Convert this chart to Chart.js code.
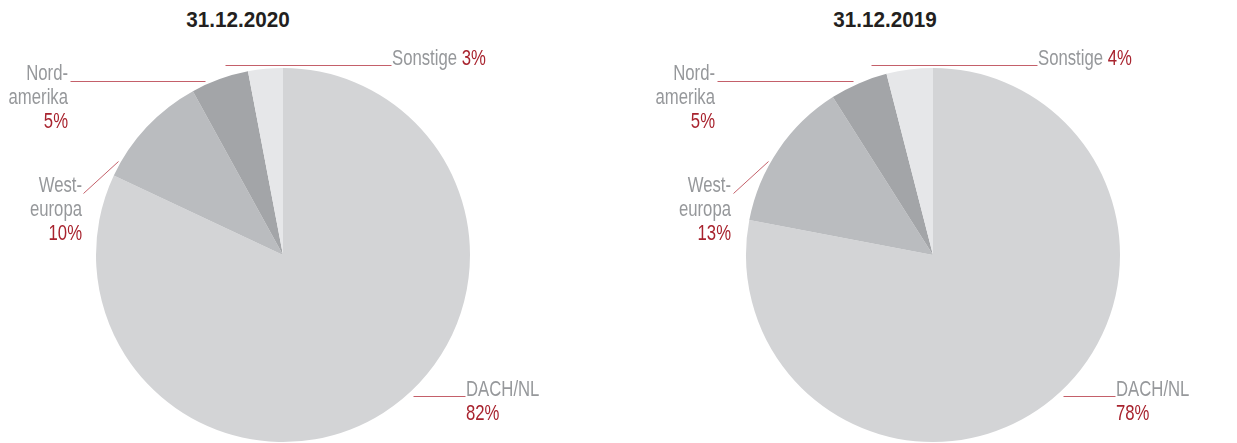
<!DOCTYPE html>
<html>
<head>
<meta charset="utf-8">
<script src="https://cdn.jsdelivr.net/npm/chart.js@4/dist/chart.umd.min.js"></script>
<style>
  html, body { margin: 0; padding: 0; background: #fff; }
  #wrap { position: relative; width: 1237px; height: 443px; overflow: hidden; }
  canvas { position: absolute; top: 0; }
  .title { position: absolute; top: 7px; font: bold 22px "Liberation Sans", Arial, sans-serif; color: #231f20; transform: translateX(-50%) scaleX(0.94); white-space: nowrap; }
</style>
</head>
<body>
<div id="wrap">
  <div class="title" id="t1" style="left:238px"></div>
  <div class="title" id="t2" style="left:885px"></div>
  <canvas id="c1" width="618" height="443" style="left:0"></canvas>
  <canvas id="c2" width="619" height="443" style="left:618px"></canvas>
</div>
<script>
// ---- data ----
const titles = ["31.12.2020", "31.12.2019"];
const categories = ["DACH/NL", "Westeuropa", "Nordamerika", "Sonstige"];
const values2020 = [82, 10, 5, 3];
const values2019 = [78, 13, 5, 4];
const sliceColors = ["#d3d4d6", "#babcbf", "#a3a5a8", "#e6e7e9"];

// label line texts (as printed)
const labelLines = {
  "DACH/NL": ["DACH/NL"],
  "Westeuropa": ["West-", "europa"],
  "Nordamerika": ["Nord-", "amerika"],
  "Sonstige": ["Sonstige"]
};

const GRAY = "#96989b";
const RED = "#a8232e";
const LINE = "#c4606a";
const FONT = '22px "Liberation Sans", Arial, sans-serif';
const SX = 0.76; // condensed look

// label layout (page coordinates)
const layouts = [
  { // 2020
    offsetX: 0,
    "DACH/NL": { type: "below", x: 466, y: 396, line: [[413, 396], [465, 396]] },
    "Westeuropa": { type: "stack", x: 82, y: 192, line: [[83, 193], [118, 161]] },
    "Nordamerika": { type: "stack", x: 68, y: 80, line: [[70, 81], [205, 81]] },
    "Sonstige": { type: "inline", x: 392, y: 65, line: [[225, 65], [391, 65]] }
  },
  { // 2019
    offsetX: 618,
    "DACH/NL": { type: "below", x: 1116, y: 396, line: [[1063, 396], [1115, 396]] },
    "Westeuropa": { type: "stack", x: 731, y: 192, line: [[733, 193], [768, 161]] },
    "Nordamerika": { type: "stack", x: 715, y: 80, line: [[717, 81], [853, 81]] },
    "Sonstige": { type: "inline", x: 1038, y: 65, line: [[871, 65], [1037, 65]] }
  }
];

function drawText(ctx, text, x, y, align) {
  const w = ctx.measureText(text).width * SX;
  const left = align === "right" ? x - w : x;
  ctx.save();
  ctx.translate(left, y);
  ctx.scale(SX, 1);
  ctx.textAlign = "left";
  ctx.fillText(text, 0, 0);
  ctx.restore();
  return w;
}

const labelPlugin = {
  id: "pieLabels",
  afterDraw(chart, args, opts) {
    const ctx = chart.ctx;
    const L = opts.layout;
    const ox = L.offsetX;
    const data = chart.data.datasets[0].data;
    ctx.save();
    ctx.font = FONT;
    ctx.textBaseline = "alphabetic";
    chart.data.labels.forEach((cat, i) => {
      const spec = L[cat];
      if (!spec) return;
      const pct = data[i] + "%";
      const lines = labelLines[cat];
      // leader line
      ctx.strokeStyle = LINE;
      ctx.lineWidth = 1;
      ctx.beginPath();
      ctx.moveTo(spec.line[0][0] - ox + 0.5, spec.line[0][1] + 0.5);
      ctx.lineTo(spec.line[1][0] - ox + 0.5, spec.line[1][1] + 0.5);
      ctx.stroke();
      const x = spec.x - ox;
      if (spec.type === "inline") {
        ctx.fillStyle = GRAY;
        const w = drawText(ctx, lines[0] + " ", x, spec.y, "left");
        ctx.fillStyle = RED;
        drawText(ctx, pct, x + w, spec.y, "left");
      } else if (spec.type === "below") {
        ctx.fillStyle = GRAY;
        drawText(ctx, lines[0], x, spec.y, "left");
        ctx.fillStyle = RED;
        drawText(ctx, pct, x, spec.y + 24, "left");
      } else {
        ctx.fillStyle = GRAY;
        lines.forEach((ln, k) => drawText(ctx, ln, x, spec.y + k * 24, "right"));
        ctx.fillStyle = RED;
        drawText(ctx, pct, x, spec.y + lines.length * 24, "right");
      }
    });
    ctx.restore();
  }
};

function makePie(id, values, layout, padding) {
  return new Chart(document.getElementById(id), {
    type: "pie",
    data: {
      labels: categories,
      datasets: [{ data: values, backgroundColor: sliceColors, borderWidth: 0 }]
    },
    options: {
      responsive: false,
      animation: false,
      layout: { padding: padding },
      plugins: {
        legend: { display: false },
        tooltip: { enabled: false },
        pieLabels: { layout: layout }
      }
    },
    plugins: [labelPlugin]
  });
}

document.getElementById("t1").textContent = titles[0];
document.getElementById("t2").textContent = titles[1];

makePie("c1", values2020, layouts[0], { left: 96, right: 148, top: 68, bottom: 1 });
makePie("c2", values2019, layouts[1], { left: 128, right: 117, top: 68, bottom: 1 });
</script>
</body>
</html>
